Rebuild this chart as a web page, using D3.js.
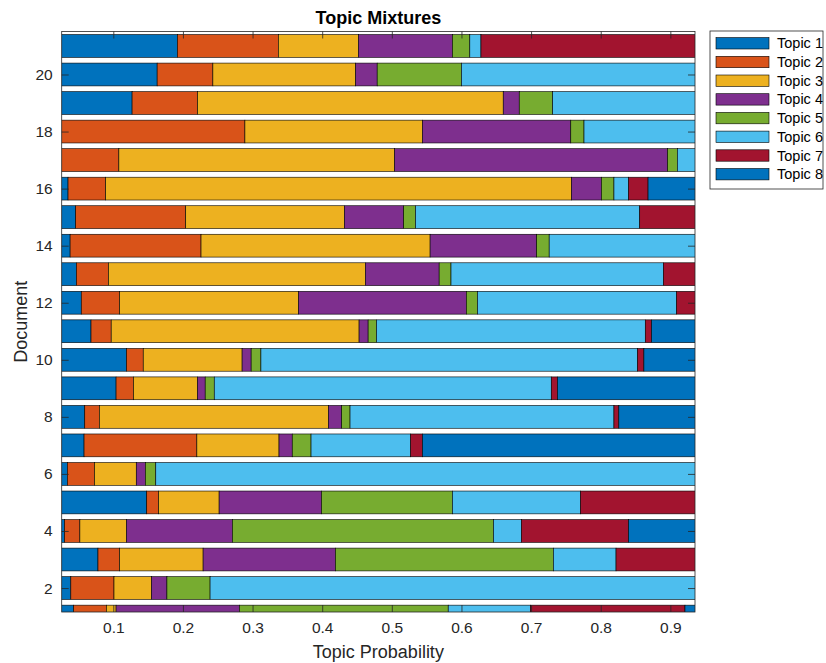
<!DOCTYPE html>
<html>
<head>
<meta charset="utf-8">
<script src="https://cdn.jsdelivr.net/npm/d3@7"></script>
<style>
  body { margin: 0; background: #fff; }
  text { font-family: "Liberation Sans", Arial, Helvetica, sans-serif; }
</style>
</head>
<body>
<div id="chart"></div>
<script>
// documents 1..21, one value per document for each topic
const docs = d3.range(1, 22);
const topicNames = ['Topic 1', 'Topic 2', 'Topic 3', 'Topic 4', 'Topic 5', 'Topic 6', 'Topic 7', 'Topic 8'];

const topic1 = [0.043, 0.039, 0.078, 0.030, 0.148, 0.034, 0.058, 0.059, 0.104, 0.119, 0.068, 0.054, 0.047, 0.038, 0.046, 0.035, 0.010, 0.010, 0.127, 0.163, 0.192];
const topic2 = [0.047, 0.062, 0.031, 0.022, 0.017, 0.039, 0.162, 0.021, 0.025, 0.024, 0.029, 0.055, 0.046, 0.188, 0.158, 0.054, 0.098, 0.279, 0.094, 0.080, 0.145];
const topic3 = [0.014, 0.054, 0.120, 0.067, 0.087, 0.060, 0.118, 0.329, 0.092, 0.142, 0.356, 0.257, 0.369, 0.329, 0.228, 0.669, 0.396, 0.255, 0.439, 0.205, 0.115];
const topic4 = [0.177, 0.022, 0.190, 0.152, 0.147, 0.013, 0.019, 0.019, 0.011, 0.013, 0.013, 0.241, 0.106, 0.153, 0.085, 0.043, 0.392, 0.213, 0.023, 0.031, 0.135];
const topic5 = [0.300, 0.062, 0.313, 0.375, 0.188, 0.015, 0.027, 0.012, 0.013, 0.014, 0.012, 0.016, 0.017, 0.018, 0.017, 0.018, 0.014, 0.019, 0.048, 0.121, 0.025];
const topic6 = [0.118, 0.761, 0.090, 0.040, 0.184, 0.839, 0.143, 0.379, 0.484, 0.541, 0.386, 0.286, 0.305, 0.274, 0.322, 0.021, 0.090, 0.224, 0.269, 0.400, 0.016];
const topic7 = [0.222, 0, 0.178, 0.154, 0.229, 0, 0.017, 0.007, 0.009, 0.009, 0.009, 0.091, 0.110, 0, 0.144, 0.028, 0, 0, 0, 0, 0.372];
const topic8 = [0.079, 0, 0, 0.160, 0, 0, 0.456, 0.174, 0.262, 0.138, 0.127, 0, 0, 0, 0, 0.132, 0, 0, 0, 0, 0];

const xTicks = [0.1, 0.2, 0.3, 0.4, 0.5, 0.6, 0.7, 0.8, 0.9];
const yTicks = [2, 4, 6, 8, 10, 12, 14, 16, 18, 20];

const colors = ['#0072BD', '#D95319', '#EDB120', '#7E2F8E', '#77AC30', '#4DBEEE', '#A2142F', '#0072BD'];

const width = 826;
const height = 663;
const plotLeft = 61.7, plotRight = 695, plotTop = 31.5, plotBottom = 612;
const axisColor = '#262626';

const series = [topic1, topic2, topic3, topic4, topic5, topic6, topic7, topic8];
const table = docs.map((d, i) => {
  const row = { doc: d };
  topicNames.forEach((t, k) => { row[t] = series[k][i]; });
  return row;
});

const stacked = d3.stack().keys(topicNames)(table);

const xScale = d3.scaleLinear().domain([0.0259, 0.9354]).range([plotLeft, plotRight]);
const yScale = d3.scaleLinear().domain([1.16, 21.507]).range([plotBottom, plotTop]);
const barH = yScale(0) - yScale(0.8);

const svg = d3.select('#chart')
              .append('svg')
              .attr('width', width)
              .attr('height', height);

svg.append('clipPath')
   .attr('id', 'plot-clip')
   .append('rect')
   .attr('x', plotLeft)
   .attr('y', plotTop)
   .attr('width', plotRight - plotLeft)
   .attr('height', plotBottom - plotTop);

const plot = svg.append('g').attr('clip-path', 'url(#plot-clip)');

plot.selectAll('g.layer')
    .data(stacked)
    .enter()
    .append('g')
    .attr('class', 'layer')
    .attr('fill', (d, i) => colors[i])
    .selectAll('rect')
    .data(d => d.filter(s => s[1] - s[0] > 0))
    .enter()
    .append('rect')
    .attr('x', d => xScale(d[0]))
    .attr('y', d => yScale(d.data.doc) - barH / 2)
    .attr('width', d => xScale(d[1]) - xScale(d[0]))
    .attr('height', barH)
    .attr('stroke', '#000')
    .attr('stroke-width', 0.6);

// axes: ticks inside, box on
const tickLen = 7;
const xAxis = d3.axisBottom(xScale).tickValues(xTicks).tickSizeInner(-tickLen).tickSizeOuter(0).tickPadding(10);
const xAxisTop = d3.axisTop(xScale).tickValues(xTicks).tickSizeInner(-tickLen).tickSizeOuter(0).tickFormat('');
const yAxis = d3.axisLeft(yScale).tickValues(yTicks).tickSizeInner(-tickLen).tickSizeOuter(0).tickPadding(9);
const yAxisRight = d3.axisRight(yScale).tickValues(yTicks).tickSizeInner(-tickLen).tickSizeOuter(0).tickFormat('');

const styleAxis = (g) => {
  g.select('.domain').remove();
  g.selectAll('line').attr('stroke', axisColor).attr('stroke-width', 0.8);
  g.selectAll('text').attr('fill', axisColor).style('font-size', '15.5px')
   .style('font-family', '"Liberation Sans", Arial, Helvetica, sans-serif');
};

svg.append('g').attr('transform', 'translate(0,' + plotBottom + ')').call(xAxis).call(styleAxis);
svg.append('g').attr('transform', 'translate(0,' + plotTop + ')').call(xAxisTop).call(styleAxis);
svg.append('g').attr('transform', 'translate(' + plotLeft + ',0)').call(yAxis).call(styleAxis);
svg.append('g').attr('transform', 'translate(' + plotRight + ',0)').call(yAxisRight).call(styleAxis);

svg.append('rect')
   .attr('x', plotLeft)
   .attr('y', plotTop)
   .attr('width', plotRight - plotLeft)
   .attr('height', plotBottom - plotTop)
   .attr('fill', 'none')
   .attr('stroke', axisColor)
   .attr('stroke-width', 0.8);

// title and labels
svg.append('text')
   .attr('x', (plotLeft + plotRight) / 2)
   .attr('y', 24)
   .attr('text-anchor', 'middle')
   .style('font-size', '18px')
   .style('font-weight', 'bold')
   .attr('fill', '#000')
   .text('Topic Mixtures');

svg.append('text')
   .attr('x', (plotLeft + plotRight) / 2)
   .attr('y', 658)
   .attr('text-anchor', 'middle')
   .style('font-size', '18px')
   .attr('fill', axisColor)
   .text('Topic Probability');

svg.append('text')
   .attr('transform', 'translate(27,' + ((plotTop + plotBottom) / 2) + ') rotate(-90)')
   .attr('text-anchor', 'middle')
   .style('font-size', '18px')
   .attr('fill', axisColor)
   .text('Document');

// legend
const legend = svg.append('g');
legend.append('rect')
      .attr('x', 710)
      .attr('y', 31)
      .attr('width', 113)
      .attr('height', 158)
      .attr('fill', '#fff')
      .attr('stroke', axisColor)
      .attr('stroke-width', 0.8);

const items = legend.selectAll('g.item')
                    .data(topicNames)
                    .enter()
                    .append('g')
                    .attr('class', 'item')
                    .attr('transform', (d, i) => 'translate(0,' + (43.3 + i * 18.7) + ')');

items.append('rect')
     .attr('x', 716)
     .attr('y', -5.7)
     .attr('width', 53)
     .attr('height', 11.4)
     .attr('fill', (d, i) => colors[i])
     .attr('stroke', '#000')
     .attr('stroke-width', 0.6);

items.append('text')
     .attr('x', 777)
     .attr('y', 0)
     .attr('dy', '0.35em')
     .style('font-size', '14.5px')
     .attr('fill', '#000')
     .text(d => d);
</script>
</body>
</html>
